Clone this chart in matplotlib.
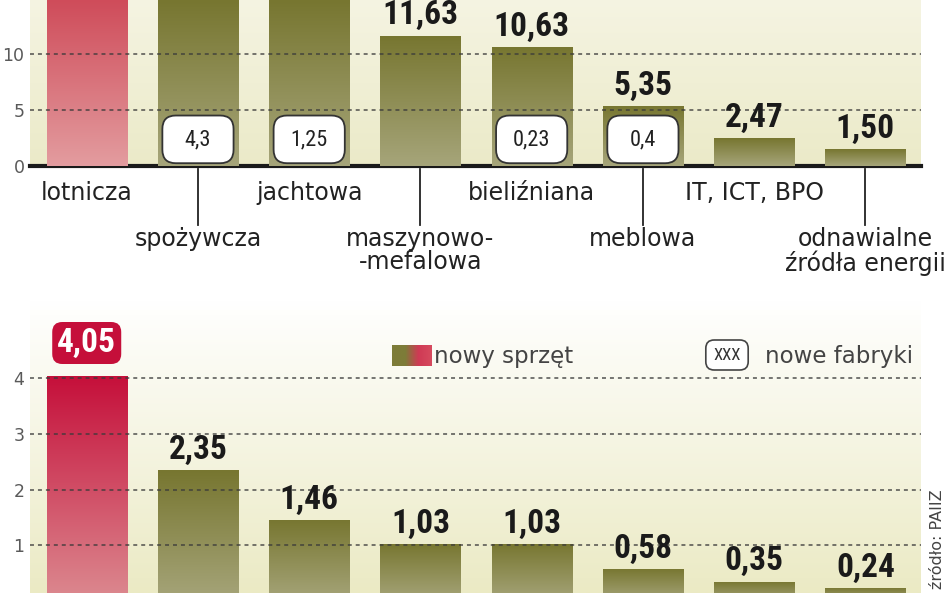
import matplotlib
matplotlib.use("Agg")
import matplotlib.pyplot as plt
import numpy as np
from matplotlib import font_manager
from matplotlib.colors import LinearSegmentedColormap
from matplotlib.patches import FancyBboxPatch

# data
categories = ['lotnicza', 'spożywcza', 'jachtowa', 'maszynowo-\n-mefalowa',
              'bieliźniana', 'meblowa', 'IT, ICT, BPO', 'odnawialne\nźródła energii']
investment_total = [19.8, 17.4, 16.1, 11.63, 10.63, 5.35, 2.47, 1.50]
new_factories = [None, 4.3, 1.25, None, 0.23, 0.4, None, None]
new_equipment = [4.05, 2.35, 1.46, 1.03, 1.03, 0.58, 0.35, 0.24]
top_ticks = [0, 5, 10]
bottom_ticks = [1, 2, 3, 4]
legend_labels = ['nowy sprzęt', 'nowe fabryki']
source = 'źródło: PAIIZ'

# look for a condensed face for the numbers
NARROW = dict(family='Roboto')
for f in font_manager.fontManager.ttflist:
    if f.name in ('Liberation Sans Narrow', 'Roboto Condensed', 'Open Sans Condensed'):
        NARROW = dict(family=f.name)
        break
    if f.name == 'DejaVu Sans' and str(f.stretch) in ('condensed', 'semi-condensed'):
        NARROW = dict(family='DejaVu Sans', fontstretch='condensed')
plt.rcParams['font.family'] = ['DejaVu Sans']

W, H = 948, 593
def fx(px):
    return px / W
def fy(py):
    return 1 - py / H

OLIVE = ('#a6a57a', '#777630')
RED_TOP = ('#e39c9f', '#cf4c5a')
RED_BOT = ('#dc8a90', '#c50f3a')
GRID = dict(color='#3a3a3a', lw=1.3, ls=(0, (2.2, 2.2)), alpha=0.75, zorder=4)


def fmt(v):
    return f'{v:.2f}'.replace('.', ',')


def fill_background(ax, top, bottom):
    cmap = LinearSegmentedColormap.from_list('bg', [bottom, top])
    g = np.linspace(0, 1, 256).reshape(-1, 1)
    ax.imshow(g, extent=[0, 1, 0, 1], transform=ax.transAxes, origin='lower',
              aspect='auto', cmap=cmap, zorder=0)


def gradient_bars(ax, bars, colors):
    ymax = ax.get_ylim()[1]
    g = np.linspace(0, 1, 256).reshape(-1, 1)
    for bar, (c0, c1) in zip(bars, colors):
        x, y = bar.get_xy()
        w = bar.get_width()
        top = min(y + bar.get_height(), ymax)
        cmap = LinearSegmentedColormap.from_list('b', [c0, c1])
        im = ax.imshow(g, extent=[x, x + w, y, top], origin='lower',
                       aspect='auto', cmap=cmap, zorder=2)
        im.set_clip_path(bar)
        bar.set_facecolor('none')
        bar.set_edgecolor('none')


def style_axis(ax, ticks):
    for s in ax.spines.values():
        s.set_visible(False)
    ax.set_xticks([])
    ax.set_yticks(ticks)
    ax.tick_params(axis='y', length=0, pad=4, labelsize=12.5, labelcolor='#5a5a5a')


x = np.arange(len(categories))
xlim = (-0.51, 7.5)

fig = plt.figure(figsize=(9.48, 5.93), dpi=100)

# ---- upper chart
ylim1 = (0, 14.8)
ax1 = fig.add_axes([fx(30), fy(166), fx(921) - fx(30), 166 / H])
fill_background(ax1, '#f5f4e2', '#ebeac8')
bars1 = ax1.bar(x, investment_total, width=0.72, zorder=2)
ax1.set_xlim(*xlim)
ax1.set_ylim(*ylim1)
gradient_bars(ax1, bars1, [RED_TOP] + [OLIVE] * 7)
ax1.set_xlim(*xlim)
ax1.set_ylim(*ylim1)
for t in top_ticks[1:]:
    ax1.axhline(t, **GRID)
ax1.axhline(0, color='#1a1a1a', lw=3, zorder=1, clip_on=False)
style_axis(ax1, top_ticks)

for i, v in enumerate(investment_total):
    ax1.annotate(fmt(v), (i, v), xytext=(0, 8), textcoords='offset points',
                 ha='center', va='baseline', fontsize=24, fontweight='bold',
                 color='#1a1a1a', zorder=5, **NARROW)

for i, v in enumerate(new_factories):
    if v is None:
        continue
    ax1.add_patch(FancyBboxPatch((i - 0.29, 0.55), 0.58, 3.65,
                                 boxstyle='round,pad=0.03,rounding_size=0.12',
                                 mutation_aspect=10, fc='white', ec='#333333',
                                 lw=1.3, zorder=5))
    ax1.text(i, 2.3, str(v).replace('.', ','), ha='center', va='center',
             fontsize=16, color='#222222', zorder=6, **NARROW)

for i, name in enumerate(categories):
    if i % 2 == 0:
        ax1.text(i, -0.09, name, transform=ax1.get_xaxis_transform(),
                 ha='center', va='top', fontsize=17, color='#222222')
    else:
        ax1.plot([i, i], [-0.02, -0.355], transform=ax1.get_xaxis_transform(),
                 color='#222222', lw=1.3, clip_on=False)
        ax1.text(i, -0.37, name, transform=ax1.get_xaxis_transform(),
                 ha='center', va='top', fontsize=17, color='#222222',
                 linespacing=0.95)

# ---- lower chart
ylim2 = (0.144, 5.41)
ax2 = fig.add_axes([fx(30), 0, fx(921) - fx(30), 293 / H])
fill_background(ax2, '#ffffff', '#ebeac4')
bars2 = ax2.bar(x, new_equipment, width=0.72, zorder=2)
ax2.set_xlim(*xlim)
ax2.set_ylim(*ylim2)
gradient_bars(ax2, bars2, [RED_BOT] + [OLIVE] * 7)
ax2.set_xlim(*xlim)
ax2.set_ylim(*ylim2)
for t in bottom_ticks:
    ax2.axhline(t, **GRID)
style_axis(ax2, bottom_ticks)

for i, v in enumerate(new_equipment):
    if i == 0:
        ax2.annotate(fmt(v), (i, v), xytext=(0, 12), textcoords='offset points',
                     ha='center', va='bottom', fontsize=24, fontweight='bold',
                     color='white', zorder=6,
                     bbox=dict(boxstyle='round,pad=0.15,rounding_size=0.3',
                               fc='#c50f3a', ec='none'), **NARROW)
    else:
        ax2.annotate(fmt(v), (i, v), xytext=(0, 8), textcoords='offset points',
                     ha='center', va='baseline', fontsize=24, fontweight='bold',
                     color='#1a1a1a', zorder=5, **NARROW)

# legend
lax = fig.add_axes([fx(392), fy(366), 40 / W, 21 / H])
lax.imshow(np.linspace(0, 1, 64).reshape(1, -1), aspect='auto',
           cmap=LinearSegmentedColormap.from_list('lg', ['#7d7c38', '#7d7c38', '#cf3a55', '#d64a5e']))
lax.axis('off')
fig.text(fx(434), fy(356), legend_labels[0], ha='left', va='center',
         fontsize=16.5, color='#444444')
fig.text(fx(727), fy(355), 'XXX', ha='center', va='center', fontsize=12,
         color='#333333',
         bbox=dict(boxstyle='round,pad=0.45,rounding_size=0.5', fc='white',
                   ec='#444444', lw=1.2), **NARROW)
fig.text(fx(765), fy(356), legend_labels[1], ha='left', va='center',
         fontsize=16.5, color='#444444')

fig.text(fx(937), fy(489), source, rotation=90, ha='center', va='top',
         fontsize=11.5, color='#444444')

fig.savefig('out.png', dpi=100)
